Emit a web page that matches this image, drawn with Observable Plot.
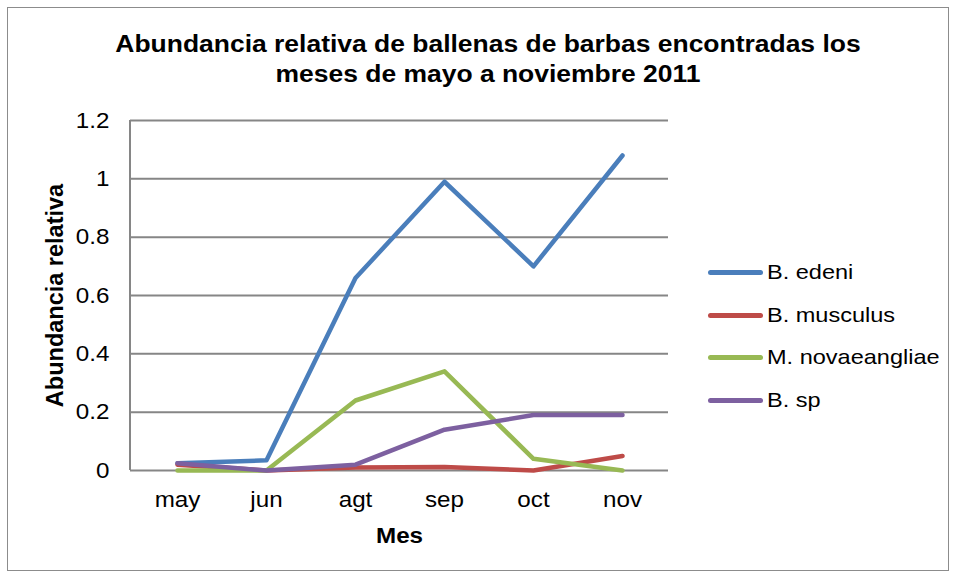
<!DOCTYPE html>
<html>
<head>
<meta charset="utf-8">
<script src="https://cdn.jsdelivr.net/npm/d3@7"></script>
<script src="https://cdn.jsdelivr.net/npm/@observablehq/plot@0.6"></script>
<style>
  html, body { margin: 0; padding: 0; background: #fff; }
  #wrap { position: relative; width: 958px; height: 578px; font-family: "Liberation Sans", Arial, sans-serif; }
  #border { position: absolute; left: 7px; top: 7px; width: 942px; height: 564px; border: 1px solid #8c8c8c; box-sizing: border-box; pointer-events: none; }
  #title { position: absolute; left: 0; width: 976px; top: 29px; text-align: center; font-weight: bold; font-size: 23px; line-height: 30px; color: #000; transform: scaleX(1.15); transform-origin: 488px 0; }
  #legend { position: absolute; left: 708px; top: 258px; }
  .item { position: relative; height: 42.5px; display: flex; align-items: flex-start; }
  .sw { width: 55px; height: 5px; border-radius: 3px; margin-top: 12px; margin-right: 4px; flex: none; }
  .lab { font-size: 21px; line-height: 28px; color: #000; transform: scaleX(1.12); transform-origin: 0 0; white-space: nowrap; }
  svg { position: absolute; left: 0; top: 0; }
</style>
</head>
<body>
<div id="wrap">
  <div id="title"></div>
  <div id="legend"></div>
  <div id="border"></div>
</div>
<script>
const titleLines = ["Abundancia relativa de ballenas de barbas encontradas los", "meses de mayo a noviembre 2011"];
const xLabel = "Mes";
const yLabel = "Abundancia relativa";
const months = ["may", "jun", "agt", "sep", "oct", "nov"];
const yTicks = [0, 0.2, 0.4, 0.6, 0.8, 1, 1.2];
const yTickLabels = ["0", "0.2", "0.4", "0.6", "0.8", "1", "1.2"];
const seriesNames = ["B. edeni", "B. musculus", "M. novaeangliae", "B. sp"];
const seriesColors = ["#4a7ebb", "#be4b48", "#98b954", "#7d60a0"];
const edeni = [0.025, 0.035, 0.66, 0.99, 0.70, 1.08];
const musculus = [0.02, 0.0, 0.01, 0.012, 0.0, 0.05];
const novaeangliae = [0.0, 0.0, 0.24, 0.34, 0.04, 0.0];
const sp = [0.025, 0.0, 0.02, 0.14, 0.19, 0.19];
const seriesValues = [edeni, musculus, novaeangliae, sp];

const rows = [];
seriesNames.forEach((s, i) => months.forEach((m, j) => rows.push({ serie: s, mes: m, valor: seriesValues[i][j] })));

document.getElementById("title").innerHTML = titleLines.join("<br>");
const legend = document.getElementById("legend");
seriesNames.forEach((s, i) => {
  const d = document.createElement("div");
  d.className = "item";
  d.innerHTML = `<div class="sw" style="background:${seriesColors[i]}"></div><div class="lab">${s}</div>`;
  legend.appendChild(d);
});

const axisLine = (index, scales, values, dims) => {
  const g = d3.create("svg:g");
  g.append("line")
    .attr("x1", dims.marginLeft).attr("x2", dims.marginLeft)
    .attr("y1", dims.marginTop).attr("y2", dims.height - dims.marginBottom)
    .attr("stroke", "#868686").attr("stroke-width", 2);
  return g.node();
};

const chart = Plot.plot({
  width: 958,
  height: 578,
  marginLeft: 130,
  marginRight: 290,
  marginTop: 120,
  marginBottom: 108,
  style: { fontFamily: "Liberation Sans, Arial, sans-serif", background: "transparent", overflow: "visible" },
  x: { type: "point", domain: months, padding: 0.5 },
  y: { domain: [0, 1.2] },
  color: { domain: seriesNames, range: seriesColors },
  marks: [
    Plot.ruleY(yTicks, { stroke: "#868686", strokeWidth: 2 }),
    axisLine,
    Plot.axisY({ ticks: yTicks, tickFormat: d => yTickLabels[yTicks.indexOf(d)], tickSize: 0, tickPadding: 21, fontSize: 22, label: null, fill: "#000" }),
    Plot.axisX({ tickSize: 0, tickPadding: 21, fontSize: 22, label: null, fill: "#000" }),
    Plot.line(rows, { x: "mes", y: "valor", z: "serie", stroke: "serie", strokeWidth: 4.5, strokeLinejoin: "round", strokeLinecap: "round" }),
    Plot.text([xLabel], { frameAnchor: "bottom", dy: 65, lineAnchor: "middle", textAnchor: "middle", fontSize: 22, fontWeight: "bold", fill: "#000" }),
    Plot.text([yLabel], { frameAnchor: "left", dx: -75, rotate: -90, textAnchor: "middle", lineAnchor: "middle", fontSize: 23.5, fontWeight: "bold", fill: "#000" })
  ]
});
document.getElementById("wrap").insertBefore(chart, document.getElementById("title"));

// horizontal stretch of text glyphs, as in the reference picture
const stretch = 1.1;
chart.querySelectorAll("text").forEach(t => {
  if (t.textContent === yLabel) return;
  const L = t.getComputedTextLength();
  if (L > 0) {
    t.setAttribute("textLength", L * stretch);
    t.setAttribute("lengthAdjust", "spacingAndGlyphs");
  }
});
</script>
</body>
</html>
